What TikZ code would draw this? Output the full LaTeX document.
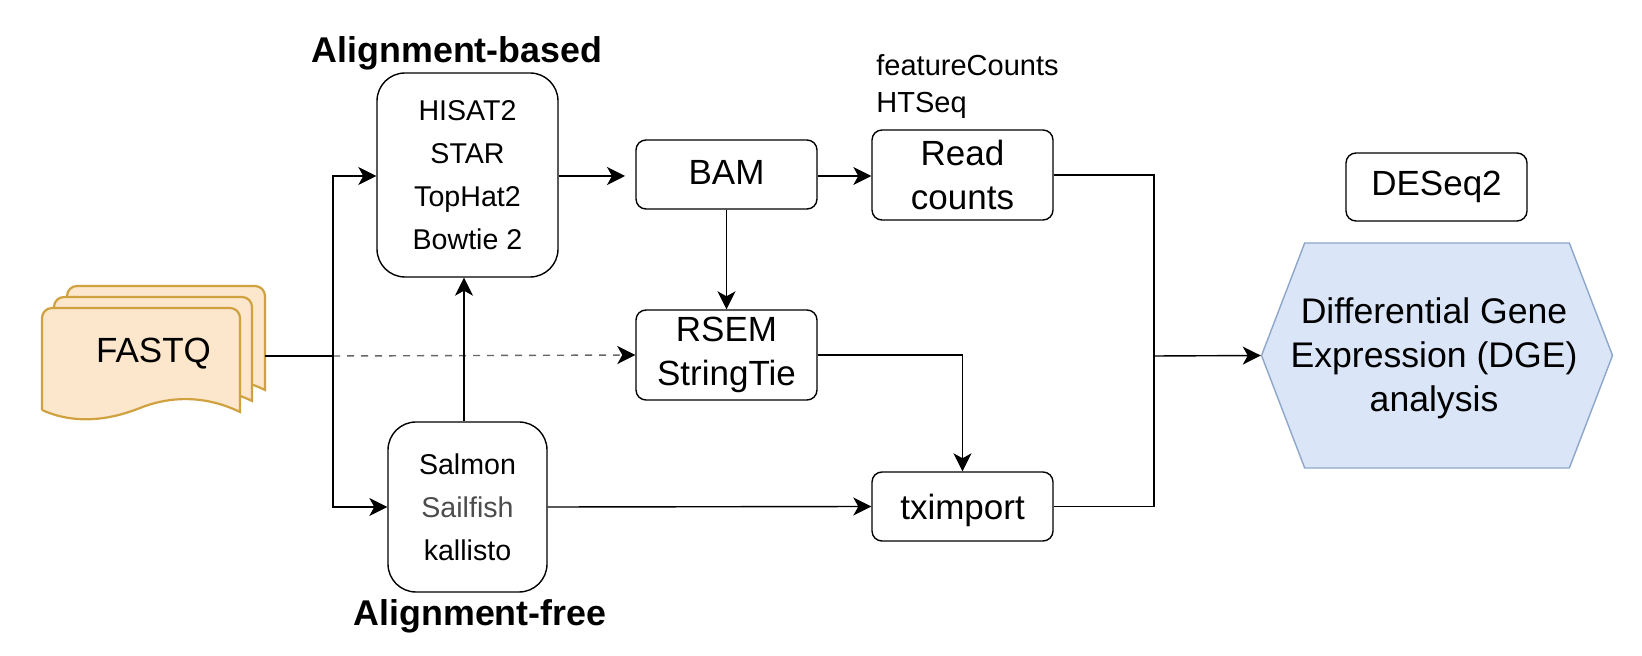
\documentclass[tikz,border=0pt]{standalone}
\usepackage{fontspec}
\setmainfont{Liberation Sans}
\usetikzlibrary{arrows.meta,shapes.symbols}
\definecolor{pagefill}{HTML}{FCE6CC}
\definecolor{pageline}{HTML}{CFA23F}
\definecolor{hexfill}{HTML}{DAE6F8}
\definecolor{hexline}{HTML}{8DA6C9}
\tikzset{
  bigtext/.style={font=\fontsize{17.5}{22}\selectfont,align=center},
  smalltext/.style={font=\fontsize{14.3}{21.5}\selectfont,align=center},
  boldtext/.style={font=\bfseries\fontsize{17.9}{20}\selectfont,inner sep=0pt},
  box/.style={draw,line width=0.7pt,rounded corners=5pt,inner sep=0pt,bigtext},
  toolbox/.style={box,rounded corners=14pt,smalltext},
  flow/.style={line width=0.7pt,-{Stealth[length=9pt,width=9pt,inset=2.5pt,black]}},
  plainflow/.style={line width=0.7pt},
  page/.style={draw=pageline,fill=pagefill,line width=1.1pt,rounded corners=5pt},
}
\begin{document}
\begin{tikzpicture}[x=0.5pt,y=-0.5pt]
\useasboundingbox (0,0) rectangle (1642,656);

\foreach \dx/\dy in {25/-22,12/-11,0/0} {
  \draw[page,shift={(\dx,\dy)}] (42,410) -- (42,308) -- (240,308) [sharp corners] -- (240,412)
    .. controls (205,395) and (170,396) .. (140,408) .. controls (110,420) and (75,425) .. (42,410);
}
\node[bigtext,minimum width=111.5pt,inner sep=0pt] (fastq) at (153.5,354) {FASTQ};

\node[toolbox,minimum width=90.5pt,minimum height=102pt] (aligned) at (467.5,175) {HISAT2\\STAR\\TopHat2\\Bowtie 2};
\node[toolbox,minimum width=79.5pt,minimum height=85pt] (free) at (467.5,507) {Salmon\\{\color{black!70}Sailfish}\\kallisto};
\node[boldtext] (alignedlabel) at (457,53) {Alignment-based};
\node[boldtext] (freelabel) at (480,616) {Alignment-free};

\node[box,minimum width=90.5pt,minimum height=34.5pt,text depth=2pt] (bam) at (726.5,174.5) {BAM};
\node[box,minimum width=90.5pt,minimum height=45pt] (rsem) at (726.5,355) {RSEM\\StringTie};
\node[box,minimum width=90.5pt,minimum height=45pt] (counts) at (962.5,175) {Read\\counts};
\node[box,minimum width=90.5pt,minimum height=34.5pt,text depth=0pt] (tximport) at (962.5,506.5) {tximport};
\node[font=\fontsize{14.5}{18.5}\selectfont,align=left,inner sep=0pt,anchor=north west] (countlabel) at (876,54) {featureCounts\\HTSeq};

\node[box,minimum width=90.5pt,minimum height=34pt] (deseq) at (1436.5,187) {DESeq2};
\node[draw=hexline,fill=hexfill,line width=0.7pt,signal,signal to=west and east,signal pointer angle=138,
  minimum width=175.5pt,minimum height=112.5pt,inner sep=0pt] (dge) at (1437,355.5) {};
\node[bigtext,font=\fontsize{17.8}{22}\selectfont,inner sep=0pt] (dgetext) at (1434,358) {Differential Gene\\Expression (DGE)\\analysis};

\coordinate (split) at (333,356);
\coordinate (merge) at (1154,356);
\coordinate (bamin) at (625,176);

\draw[plainflow] (fastq.east |- split) -- (split);
\draw[flow,dash pattern=on 3.5pt off 3.5pt,black!60] (split) -- (rsem.west);
\draw[flow] (split) |- (aligned.west |- 0,176);
\draw[flow] (split) |- (free.west);
\draw[flow] (free.north -| 464,0) -- (aligned.south -| 464,0);
\draw[flow] (aligned.east |- 0,176) -- (bamin);
\draw[flow] (bam.east |- 0,176) -- (counts.west |- 0,176);
\draw[flow] (bam.south) -- (rsem.north);
\draw[flow] (free.east) -- (tximport.west);
\draw[flow] (rsem.east) -| (tximport.north);
\draw[plainflow] (counts.east) -| (merge);
\draw[plainflow] (tximport.east) -| (merge);
\draw[flow] (merge) -- (dge.west);

\end{tikzpicture}
\end{document}
